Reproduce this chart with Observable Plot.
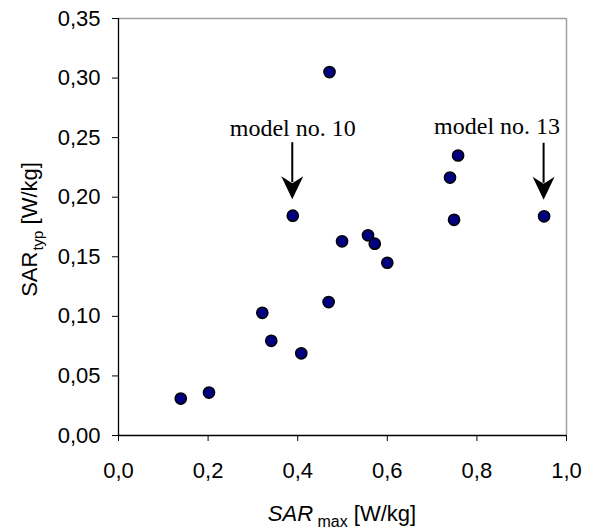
<!DOCTYPE html>
<html><head><meta charset="utf-8">
<script src="https://cdn.jsdelivr.net/npm/d3@7"></script>
<script src="https://cdn.jsdelivr.net/npm/@observablehq/plot@0.6"></script>
<style>body{margin:0;background:#fff;}</style>
</head><body><div id="chart"></div>
<script>
// SAR_max [W/kg]
const sarMax = [0.139, 0.202, 0.321, 0.341, 0.408, 0.469, 0.471, 0.389, 0.499, 0.557, 0.572, 0.600, 0.740, 0.758, 0.749, 0.950];
// SAR_typ [W/kg]
const sarTyp = [0.031, 0.036, 0.103, 0.0795, 0.069, 0.112, 0.305, 0.1845, 0.163, 0.168, 0.161, 0.145, 0.2165, 0.235, 0.181, 0.184];
const xTicks = [0, 0.2, 0.4, 0.6, 0.8, 1.0];
const yTicks = [0, 0.05, 0.10, 0.15, 0.20, 0.25, 0.30, 0.35];
const annotationIndex = [7, 15];
const annotationLabels = ["model no. 10", "model no. 13"];

const points = sarMax.map((x, i) => ({x, y: sarTyp[i]}));
const notes = annotationIndex.map((k, j) => ({x: sarMax[k], y: sarTyp[k], label: annotationLabels[j]}));

const sans = "'Liberation Sans', Arial, sans-serif";
const serif = "'Liberation Serif', 'Times New Roman', serif";

function arrowMark(data) {
  return (index, scales) => {
    const g = d3.create("svg:g");
    for (const d of data) {
      const px = scales.x(d.x), py = scales.y(d.y);
      g.append("line").attr("x1", px).attr("x2", px).attr("y1", py - 73).attr("y2", py - 33)
        .attr("stroke", "#000").attr("stroke-width", 2);
      g.append("path")
        .attr("d", `M${px},${py - 16}L${px - 11},${py - 39}L${px},${py - 32}L${px + 11},${py - 39}Z`)
        .attr("fill", "#000");
    }
    return g.node();
  };
}

function axisLabels(index, scales, values, dims) {
  const {width, height, marginLeft, marginRight, marginTop, marginBottom} = dims;
  const g = d3.create("svg:g").attr("font-family", sans).attr("fill", "#000").attr("font-size", 22);
  const cx = (marginLeft + width - marginRight) / 2;
  const tx = g.append("text").attr("x", cx).attr("y", height - 8).attr("text-anchor", "middle");
  tx.append("tspan").attr("font-style", "italic").text("SAR");
  tx.append("tspan").attr("font-size", 16).attr("dy", 6).text(" max");
  tx.append("tspan").attr("dy", -6).text(" [W/kg]");
  const cy = (marginTop + height - marginBottom) / 2 + 3;
  const ty = g.append("text").attr("transform", `translate(37,${cy}) rotate(-90)`).attr("text-anchor", "middle");
  ty.append("tspan").text("SAR");
  ty.append("tspan").attr("font-size", 15).attr("dy", 6).attr("dx", 1).text("typ");
  ty.append("tspan").attr("dy", -6).text(" [W/kg]");
  return g.node();
}

const chart = Plot.plot({
  width: 601,
  height: 529,
  marginLeft: 118,
  marginRight: 35,
  marginTop: 18,
  marginBottom: 94,
  x: {domain: [0, 1]},
  y: {domain: [0, 0.35]},
  style: {fontFamily: sans, fontSize: "22px", background: "#fff", color: "#000"},
  marks: [
    Plot.ruleY([0.35], {stroke: "#a0a0a0", strokeWidth: 1.5}),
    Plot.ruleX([1.0], {stroke: "#a0a0a0", strokeWidth: 1.5}),
    Plot.ruleX([0], {stroke: "#000", strokeWidth: 1.3}),
    Plot.ruleY([0], {stroke: "#000", strokeWidth: 1.3}),
    Plot.axisX(xTicks, {tickSize: 6, tickPadding: 21, tickFormat: d => d.toFixed(1).replace(".", ","), label: null}),
    Plot.axisY(yTicks, {tickSize: 6, tickPadding: 12, tickFormat: d => d.toFixed(2).replace(".", ","), label: null}),
    Plot.dot(points, {x: "x", y: "y", r: 5.6, fill: "#000080", stroke: "#000", strokeWidth: 1.5}),
    arrowMark(notes),
    Plot.text([notes[0]], {x: "x", y: "y", text: "label", dy: -80, lineAnchor: "bottom", textAnchor: "middle", fontFamily: serif, fontSize: 24}),
    Plot.text([notes[1]], {x: "x", y: "y", text: "label", dy: -82, dx: 16, lineAnchor: "bottom", textAnchor: "end", fontFamily: serif, fontSize: 24}),
    axisLabels
  ]
});
document.getElementById("chart").appendChild(chart);
</script>
</body></html>
